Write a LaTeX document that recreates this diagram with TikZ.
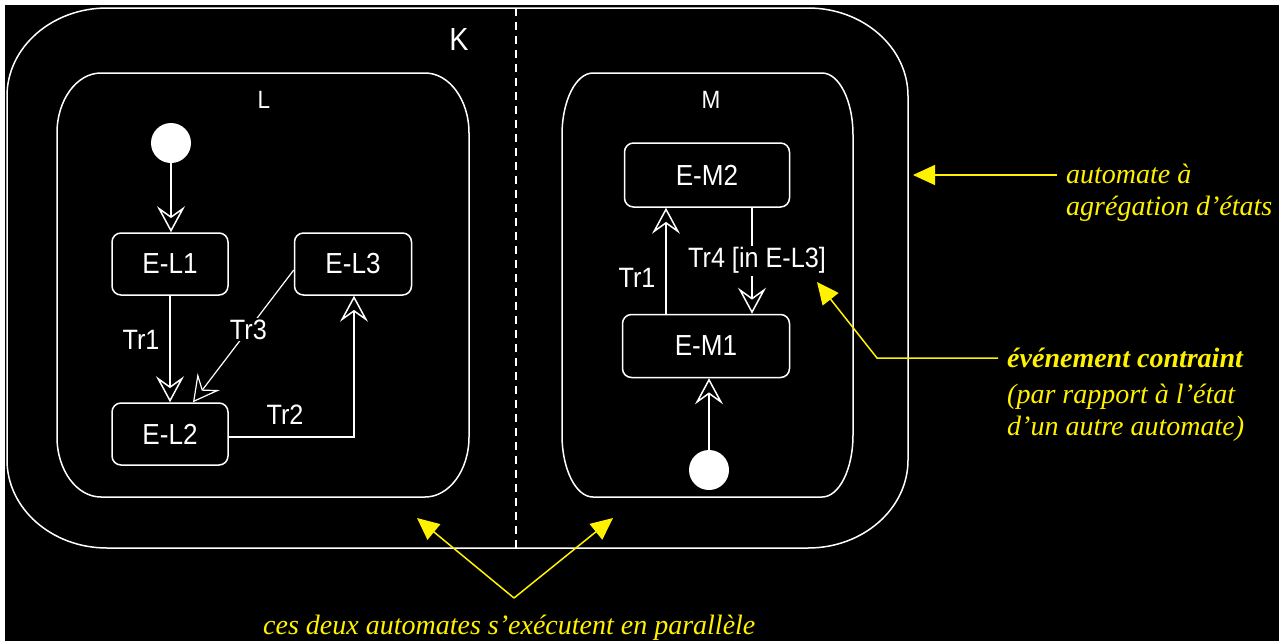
\documentclass[tikz,border=0pt]{standalone}
\usepackage{fontspec}
\setmainfont{Liberation Serif}
\newfontfamily\statefont[FakeStretch=0.9]{Liberation Sans}
\usetikzlibrary{arrows.meta}
\newcommand\roundregion[6]{%
  \draw[wline] ({#1+#5},#2) -- ({#3-#5},#2)
    arc[start angle=-90,end angle=0,x radius=#5,y radius=#6]
    -- (#3,{#4-#6})
    arc[start angle=0,end angle=90,x radius=#5,y radius=#6]
    -- ({#1+#5},#4)
    arc[start angle=90,end angle=180,x radius=#5,y radius=#6]
    -- (#1,{#2+#6})
    arc[start angle=180,end angle=270,x radius=#5,y radius=#6]
    -- cycle;}
\begin{document}
\begin{tikzpicture}[x=1pt,y=-1pt,
  wline/.style={draw=white, line width=1.5pt},
  statebox/.style={draw=white, line width=1.5pt, rounded corners=9pt, minimum width=116pt, minimum height=62pt, text=white, font=\statefont\fontsize{29}{31}\selectfont, inner sep=0pt},
  initstate/.style={circle, fill=white, minimum size=40pt, inner sep=0pt},
  trans/.style={draw=white, line width=1.5pt, -{Stealth[open, length=26pt, width=28pt, inset=10pt]}},
  tlabel/.style={text=white, font=\statefont\fontsize{28}{30}\selectfont, fill=black, inner sep=2pt},
  regionlabel/.style={text=white, font=\statefont\fontsize{25}{27}\selectfont, inner sep=0pt},
  note/.style={text=yellow, font=\itshape\fontsize{28}{30}\selectfont, inner sep=0pt, anchor=base west},
  yarrow/.style={draw=yellow, line width=1.5pt, -{Triangle[length=22pt, width=20pt]}},
]
\useasboundingbox (0,0) rectangle (1283,641);
\fill[white] (0,0) rectangle (1283,641);
\fill[black] (5,5) rectangle (1279,641);

% regions
\roundregion{7}{8}{908}{548}{100}{88}
\roundregion{57}{73}{469}{497}{44}{60}
\roundregion{562}{73}{853}{497}{31}{62}
\coordinate (divtop) at (516,8);
\coordinate (divbot) at (516,548);
\draw[wline, dash pattern=on 8pt off 6pt] (divtop) -- (divbot);

\node[regionlabel, font=\statefont\fontsize{32}{34}\selectfont] (K) at (459,39) {K};
\node[regionlabel] (L) at (264,100) {L};
\node[regionlabel] (M) at (711,100) {M};

% automaton L
\node[initstate] (li) at (171,143) {};
\node[statebox] (el1) at (170,264) {E-L1};
\node[statebox] (el2) at (170,434) {E-L2};
\node[statebox, minimum width=117pt] (el3) at (353,264) {E-L3};
\draw[trans] (li) -- (li |- el1.north);
\draw[trans] (el1) -- (el2);
\node[tlabel, fill=none] (tr1l) at (141,340) {Tr1};
\draw[trans, line width=1.2pt] ([yshift=-6pt]el3.west) -- ([xshift=23pt]el2.north)
  node[pos=0.45, tlabel] (tr3l) {Tr3};
\draw[trans] ([yshift=-3pt]el2.east) -| ([xshift=1pt]el3.south);
\node[tlabel, fill=none] (tr2l) at (285,415) {Tr2};

% automaton M
\node[statebox, minimum width=165pt, minimum height=64pt] (em2) at (707,175) {E-M2};
\node[statebox, minimum width=167pt, minimum height=63pt] (em1) at (706,346) {E-M1};
\node[initstate] (mi) at (709,470) {};
\draw[trans] (mi) -- (mi |- em1.south);
\draw[trans] ([xshift=-40pt]em1.north) -- ([xshift=-40pt]em1.north |- em2.south);
\node[tlabel, fill=none] (tr1m) at (637,278) {Tr1};
\draw[trans] ([xshift=45pt]em2.south) -- ([xshift=45pt]em2.south |- em1.north)
  node[midway, tlabel, xshift=5pt] (tr4l) {Tr4 [in E-L3]};

% notes
\node[note] (n1) at (1066,183) {automate à};
\node[note] (n2) at (1066,215) {agrégation d’états};
\coordinate (a1s) at (1057,175);
\coordinate (a1e) at (913,175);
\draw[yarrow] (a1s) -- (a1e);

\node[note, font=\bfseries\itshape\fontsize{28}{30}\selectfont] (n3) at (1007,367) {événement contraint};
\node[note] (n4) at (1007,403) {(par rapport à l’état};
\node[note] (n5) at (1007,435) {d’un autre automate)};
\coordinate (a2s) at (998,358);
\coordinate (a2m) at (877,358);
\coordinate (a2e) at (817,282);
\draw[yarrow] (a2s) -- (a2m) -- (a2e);

\node[note] (n6) at (263,634) {ces deux automates s’exécutent en parallèle};
\coordinate (apex) at (514,598);
\coordinate (a3e) at (417,518);
\coordinate (a4e) at (613,518);
\draw[yarrow] (apex) -- (a3e);
\draw[yarrow] (apex) -- (a4e);
\end{tikzpicture}
\end{document}
